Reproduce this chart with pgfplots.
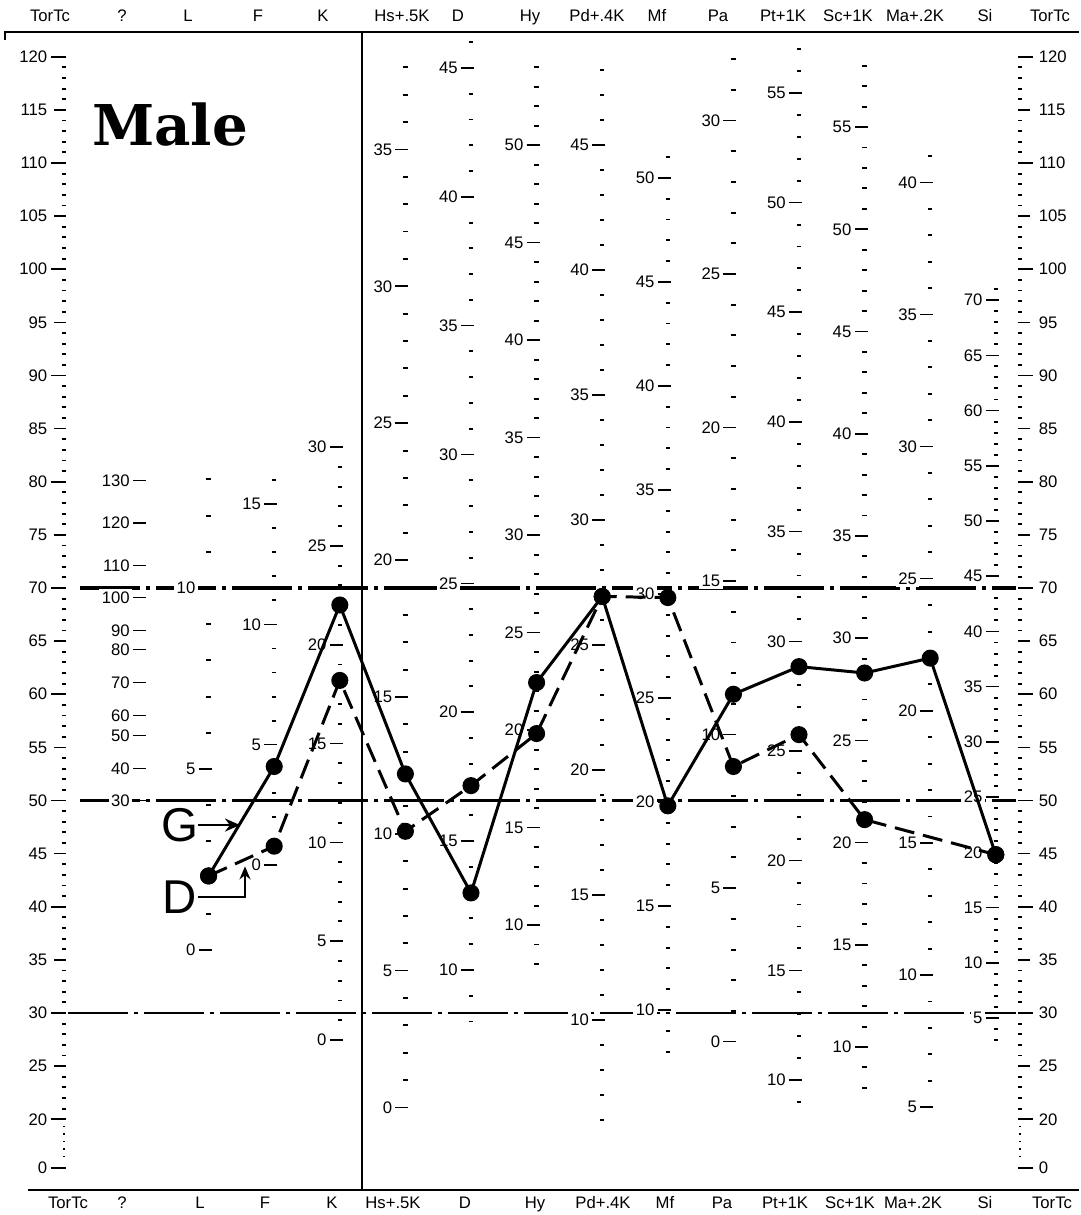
\documentclass[border=0pt]{standalone}
\usepackage{pgfplots}
\pgfplotsset{compat=1.18}
\usetikzlibrary{arrows.meta}
\usepackage{fontspec}
\setmainfont{Liberation Sans}
\newfontfamily\malefont{DejaVu Serif}
\newcommand\X[1]{\fpeval{round(1+(#1-143)/65.6,4)}}
\tikzset{
  tmin/.style={line width=1.1pt},
  tmaj/.style={line width=0.9pt},
  lbl/.style={font=\fontsize{9.5}{10}\selectfont, inner sep=0.5mm, fill=white},
  refl/.style={dash pattern=on 12mm off 1.2mm on 0.8mm off 1.2mm},
}
% #1 column, #2 a, #3 b (T = a + b*raw), #4 raw min, #5 raw max
\newcommand\scalecol[5]{%
  \foreach \r in {#4,...,#5}{%
    \pgfmathsetmacro\tv{#2+#3*\r}%
    \pgfmathtruncatemacro\md{mod(\r,5)}%
    \ifnum\md=0\relax
      \edef\temp{\noexpand\draw[tmaj] ([xshift=-2.0mm]axis cs:#1,\tv) -- ([xshift=0.6mm]axis cs:#1,\tv) node[pos=0,anchor=east,lbl]{\r};}%
    \else
      \edef\temp{\noexpand\draw[tmin] ([xshift=-0.45mm]axis cs:#1,\tv) -- ([xshift=0.45mm]axis cs:#1,\tv);}%
    \fi
    \temp
  }%
}
\begin{document}
\begin{tikzpicture}
\begin{axis}[
  width=21.58cm, height=24.3cm, scale only axis,
  xmin=-1.1799, xmax=15.2683, ymin=10.99, ymax=125.34,
  axis lines=none, ticks=none, clip=false,
]
\path (rel axis cs:0,0) rectangle (rel axis cs:1,1);

% frame lines
\draw[line width=1.2pt] (axis cs:\X{5},121.58) -- (axis cs:\X{5},122.33) -- (axis cs:\X{1079},122.33);
\draw[line width=1.2pt] (axis cs:\X{28},13.34) -- (axis cs:\X{1079},13.34);
\draw[line width=0.8pt] (axis cs:4.3384,122.33) -- (axis cs:4.3384,13.34);

% reference lines T = 70, 50, 30
\draw[refl, line width=1.8pt] (axis cs:\X{80},70) -- (axis cs:\X{1016},70);
\draw[refl, line width=1.8pt] (axis cs:\X{80},50) -- (axis cs:\X{1016},50);
\draw[refl, line width=1.0pt] (axis cs:\X{68},30) -- (axis cs:\X{1016},30);

% ? column
\foreach \v/\t in {130/80.1,120/76.1,110/72.1,100/69.1,90/66.0,80/64.2,70/61.1,60/58.0,50/56.1,40/53.0,30/50.0}{%
  \edef\temp{\noexpand\draw[tmaj] ([xshift=-2.0mm]axis cs:1,\t) -- ([xshift=0.6mm]axis cs:1,\t) node[pos=0,anchor=east,lbl]{\v};}\temp}

% raw-score scales
\scalecol{2}{35.93}{3.407}{0}{13}
\scalecol{3}{43.95}{2.262}{0}{16}
\scalecol{4}{27.46}{1.860}{0}{30}
\scalecol{5}{21.10}{2.5765}{0}{38}
\scalecol{6}{9.80}{2.4254}{8}{46}
\scalecol{7}{19.93}{1.835}{8}{54}
\scalecol{8}{5.81}{2.353}{6}{48}
\scalecol{9}{10.70}{1.958}{8}{51}
\scalecol{10}{27.3}{2.89}{0}{32}
\scalecol{11}{3.05}{2.0644}{9}{57}
\scalecol{12}{7.56}{1.924}{8}{58}
\scalecol{13}{8.70}{2.487}{5}{41}
\scalecol{14}{24.33}{1.0395}{3}{71}

% T-score axes, left and right
\foreach \t in {20,...,120}{%
  \pgfmathtruncatemacro\mf{mod(\t,5)}%
  \pgfmathtruncatemacro\mt{mod(\t,10)}%
  \ifnum\mf=0\relax
    \ifnum\mt=0\relax\def\ll{2.6mm}\else\def\ll{1.9mm}\fi
    \edef\temp{\noexpand\draw[tmaj] ([xshift=-\ll]axis cs:-0.2043,\t) -- ([xshift=0.45mm]axis cs:-0.2043,\t);
      \noexpand\node[lbl,fill=none,anchor=east] at ([xshift=-2.8mm]axis cs:-0.2043,\t) {\t};
      \noexpand\draw[tmaj] ([xshift=-0.45mm]axis cs:14.3689,\t) -- ([xshift=\ll]axis cs:14.3689,\t);
      \noexpand\node[lbl,fill=none,anchor=west] at ([xshift=3.2mm]axis cs:14.3689,\t) {\t};}%
  \else
    \edef\temp{\noexpand\draw[tmin] ([xshift=-0.45mm]axis cs:-0.2043,\t) -- ([xshift=0.45mm]axis cs:-0.2043,\t);
      \noexpand\draw[tmin] ([xshift=-0.45mm]axis cs:14.3689,\t) -- ([xshift=0.45mm]axis cs:14.3689,\t);}%
  \fi
  \temp}
\draw[line width=1pt, dash pattern=on 0.8pt off 3.5pt] (axis cs:-0.2043,19.4) -- (axis cs:-0.2043,15.9);
\draw[line width=1pt, dash pattern=on 0.8pt off 3.5pt] (axis cs:14.3689,19.4) -- (axis cs:14.3689,15.9);
\draw[tmaj] ([xshift=-2.6mm]axis cs:-0.2043,15.41) -- ([xshift=0.45mm]axis cs:-0.2043,15.41);
\node[lbl,fill=none,anchor=east] at ([xshift=-2.8mm]axis cs:-0.2043,15.41) {0};
\draw[tmaj] ([xshift=-0.45mm]axis cs:14.3689,15.41) -- ([xshift=2.6mm]axis cs:14.3689,15.41);
\node[lbl,fill=none,anchor=west] at ([xshift=3.2mm]axis cs:14.3689,15.41) {0};

% headers (aligned on a common baseline)
\foreach \p/\s in {50/TorTc,122/?,188/L,258/F,323/K,402/Hs+.5K,458/D,530/Hy,597/Pd+.4K,657/Mf,718/Pa,783/Pt+1K,848/Sc+1K,915/Ma+.2K,985/Si,1050/TorTc}{%
  \edef\temp{\noexpand\node[font=\noexpand\fontsize{9.5}{10}\noexpand\selectfont,inner sep=0pt,anchor=base] at (axis cs:\X{\p},123.27) {\s};}\temp}
\foreach \p/\s in {68/TorTc,122/?,200/L,265/F,332/K,393/Hs+.5K,465/D,535/Hy,603/Pd+.4K,665/Mf,722/Pa,785/Pt+1K,850/Sc+1K,913/Ma+.2K,985/Si,1052/TorTc}{%
  \edef\temp{\noexpand\node[font=\noexpand\fontsize{9.5}{10}\noexpand\selectfont,inner sep=0pt,anchor=base] at (axis cs:\X{\p},11.56) {\s};}\temp}

% titles and series labels
\node at (axis cs:\X{170},113.58) {\malefont\bfseries\fontsize{32}{36}\selectfont Male};
\node at (axis cs:\X{180},47.69) {\fontsize{27}{30}\selectfont G};
\draw[-{Stealth[length=3mm,width=2.6mm]}, line width=1.5pt] (axis cs:\X{198},47.69) -- (axis cs:\X{240},47.69);
\node at (axis cs:\X{180},40.92) {\fontsize{27}{30}\selectfont D};
\draw[-{Stealth[length=2.6mm,width=2.2mm]}, line width=1.3pt] (axis cs:\X{198},40.92) -- (axis cs:\X{245},40.92) -- (axis cs:\X{245},43.8);

% data: G (solid) and D (dashed) profiles, T scores
\addplot[black, line width=1.7pt, mark=*, mark size=4pt] coordinates {
  (2,42.9) (3,53.2) (4,68.4) (5,52.5) (6,41.3) (7,61.1) (8,69.2)
  (9,49.5) (10,60.0) (11,62.6) (12,62.0) (13,63.4) (14,44.9)};
\addplot[black, line width=1.7pt, dash pattern=on 4mm off 1.8mm, mark=*, mark size=4pt, mark options={solid}] coordinates {
  (2,42.9) (3,45.7) (4,61.3) (5,47.1) (6,51.4) (7,56.3) (8,69.2)
  (9,69.1) (10,53.2) (11,56.2) (12,48.2) (14,44.9)};
\end{axis}
\end{tikzpicture}
\end{document}
